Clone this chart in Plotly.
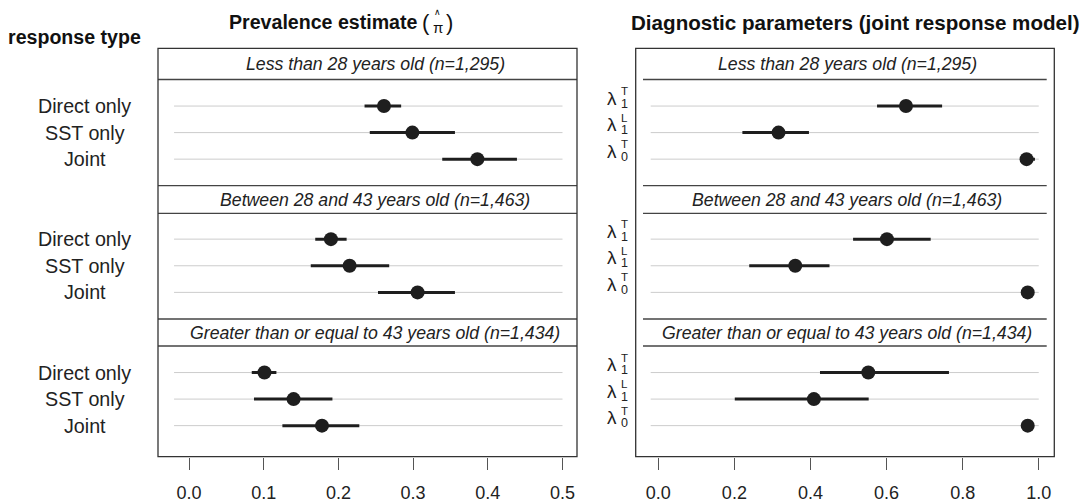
import plotly.graph_objects as go

W, H = 1086, 503

# ---------------- data ----------------
groups = ["Less than 28 years old (n=1,295)",
          "Between 28 and 43 years old (n=1,463)",
          "Greater than or equal to 43 years old (n=1,434)"]
resp_types = ["Direct only", "SST only", "Joint"]
prev_est = [[0.261, 0.299, 0.386], [0.190, 0.215, 0.306], [0.101, 0.140, 0.178]]
prev_lo = [[0.235, 0.242, 0.339], [0.169, 0.163, 0.253], [0.084, 0.087, 0.125]]
prev_hi = [[0.284, 0.356, 0.439], [0.211, 0.268, 0.356], [0.117, 0.192, 0.228]]

param_ids = ["lambda1T", "lambda1L", "lambda0T"]
param_sub = ["1", "1", "0"]
param_sup = ["T", "L", "T"]
diag_est = [[0.651, 0.316, 0.968], [0.601, 0.360, 0.971], [0.552, 0.409, 0.971]]
diag_lo = [[0.575, 0.221, 0.955], [0.512, 0.239, 0.962], [0.425, 0.201, 0.962]]
diag_hi = [[0.746, 0.396, 0.990], [0.716, 0.450, 0.980], [0.764, 0.553, 0.980]]

left_ticks = [0.0, 0.1, 0.2, 0.3, 0.4, 0.5]
right_ticks = [0.0, 0.2, 0.4, 0.6, 0.8, 1.0]

# ---------------- layout helpers ----------------
FONT = "Liberation Sans, Arial, Helvetica, sans-serif"
DARK = "#1e1e1e"


def px(x):
    return x / W


def py(y):
    return 1 - y / H


box_top, box_bot = 48.3, 456.7
strips = [(48.3, 79.5), (185.7, 213.3), (319.0, 346.0)]
plots = [(79.5, 185.7), (213.3, 319.0), (346.0, 456.7)]
yranges = [[3.0, -1.0], [3.0, -0.97], [3.17, -1.0]]
L0, L1 = 158.0, 577.0
R0, R1 = 635.7, 1054.3

fig = go.Figure()

layout = dict(
    width=W, height=H, margin=dict(l=0, r=0, t=0, b=0),
    paper_bgcolor="white", plot_bgcolor="rgba(0,0,0,0)",
    showlegend=False, font=dict(family=FONT, color=DARK),
)

axis_common = dict(ticks="outside", ticklen=12, tickwidth=1, tickcolor="#555",
                   showgrid=False, zeroline=False, showline=False,
                   tickfont=dict(size=18, color="#222", family=FONT),
                   ticklabelstandoff=8)
layout["xaxis"] = dict(domain=[px(L0), px(L1)], range=[-0.0415, 0.5194], anchor="y3",
                       tickvals=left_ticks, ticktext=[f"{t:.1f}" for t in left_ticks],
                       **axis_common)
layout["xaxis2"] = dict(domain=[px(R0), px(R1)], range=[-0.0594, 1.0409], anchor="y6",
                        tickvals=right_ticks, ticktext=[f"{t:.1f}" for t in right_ticks],
                        **axis_common)

shapes = []
annotations = []


def ann(**kw):
    d = dict(showarrow=False, borderpad=0, xanchor="center", yanchor="middle")
    d.update(kw)
    annotations.append(d)


for i in range(3):
    t, b = plots[i]
    for side in range(2):
        k = i + 1 + 3 * side
        layout[f"yaxis{k}"] = dict(domain=[py(b), py(t)], range=yranges[i],
                                   type="category",
                                   categoryarray=resp_types if side == 0 else param_ids,
                                   anchor="x" if side == 0 else "x2",
                                   showticklabels=False, ticks="", showgrid=False,
                                   zeroline=False, showline=False)

    # ---- left panel ----
    yref = f"y{i + 1}"
    for j in range(3):
        shapes.append(dict(type="line", xref="x", yref=yref, x0=-0.02, x1=0.5, y0=j, y1=j,
                           line=dict(color="#cccccc", width=1), layer="below"))
        ann(xref="paper", yref=yref, x=px(84.5), y=j, text=resp_types[j],
            font=dict(size=19.7, color="#222", family=FONT))
    est = prev_est[i]
    fig.add_trace(go.Scatter(
        x=est, y=resp_types, xaxis="x", yaxis=yref, mode="markers",
        marker=dict(size=14, color=DARK),
        error_x=dict(type="data", symmetric=False,
                     array=[h - e for h, e in zip(prev_hi[i], est)],
                     arrayminus=[e - l for e, l in zip(est, prev_lo[i])],
                     thickness=3, width=0, color=DARK),
        hoverinfo="skip"))

    # ---- right panel ----
    yref = f"y{i + 4}"
    for j in range(3):
        shapes.append(dict(type="line", xref="x2", yref=yref, x0=-0.02, x1=1.0, y0=j, y1=j,
                           line=dict(color="#cccccc", width=1), layer="below"))
        ann(xref="paper", yref=yref, x=px(612), y=j, text="λ", yshift=8,
            font=dict(size=19, color="#222", family=FONT))
        ann(xref="paper", yref=yref, x=px(624.5), y=j, text=param_sup[j], yshift=15,
            font=dict(size=11.5, color="#222", family=FONT))
        ann(xref="paper", yref=yref, x=px(624.5), y=j, text=param_sub[j], yshift=2.5,
            font=dict(size=12.5, color="#222", family=FONT))
    est = diag_est[i]
    fig.add_trace(go.Scatter(
        x=est, y=param_ids, xaxis="x2", yaxis=yref, mode="markers",
        marker=dict(size=14, color=DARK),
        error_x=dict(type="data", symmetric=False,
                     array=[h - e for h, e in zip(diag_hi[i], est)],
                     arrayminus=[e - l for e, l in zip(est, diag_lo[i])],
                     thickness=3, width=0, color=DARK),
        hoverinfo="skip"))

    # ---- strips ----
    st, sb = strips[i]
    ann(xref="paper", yref="paper", x=px(375), y=py((st + sb) / 2),
        text=f"<i>{groups[i]}</i>", font=dict(size=17.7, color="#222", family=FONT))
    ann(xref="paper", yref="paper", x=px(847), y=py((st + sb) / 2),
        text=f"<i>{groups[i]}</i>", font=dict(size=17.7, color="#222", family=FONT))

# strip separator lines
for yline in [79.5, 185.7, 213.3, 319.0, 346.0]:
    shapes.append(dict(type="line", xref="paper", yref="paper", x0=px(L0), x1=px(L1),
                       y0=py(yline), y1=py(yline), line=dict(color="#444", width=1.3)))
    shapes.append(dict(type="line", xref="paper", yref="paper", x0=px(643), x1=px(1046.7),
                       y0=py(yline), y1=py(yline), line=dict(color="#444", width=1.3)))

# outer boxes
for x0, x1 in [(L0, L1), (R0, R1)]:
    shapes.append(dict(type="rect", xref="paper", yref="paper", x0=px(x0), x1=px(x1),
                       y0=py(box_bot), y1=py(box_top), line=dict(color="#333", width=1.3),
                       fillcolor="rgba(0,0,0,0)"))

# titles
ann(xref="paper", yref="paper", x=px(74), y=py(37), text="<b>response type</b>",
    font=dict(size=19.6, color="#111", family=FONT))
ann(xref="paper", yref="paper", x=px(419), y=py(22), xanchor="right",
    text="<b>Prevalence estimate</b>", font=dict(size=19.6, color="#111", family=FONT))
ann(xref="paper", yref="paper", x=px(425.5), y=py(22), text="(",
    font=dict(size=22, color="#111", family=FONT))
ann(xref="paper", yref="paper", x=px(437.5), y=py(12), text="∧",
    font=dict(size=9, color="#111", family=FONT))
ann(xref="paper", yref="paper", x=px(437.5), y=py(27.5), text="π",
    font=dict(size=15, color="#111", family=FONT))
ann(xref="paper", yref="paper", x=px(449.5), y=py(22), text=")",
    font=dict(size=22, color="#111", family=FONT))
ann(xref="paper", yref="paper", x=px(855), y=py(22),
    text="<b>Diagnostic parameters (joint response model)</b>",
    font=dict(size=20.6, color="#111", family=FONT))

layout["shapes"] = shapes
layout["annotations"] = annotations
fig.update_layout(**layout)

fig.write_html("out.html")
